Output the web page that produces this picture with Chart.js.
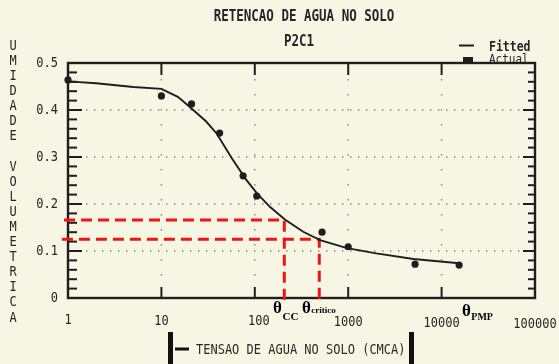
<!DOCTYPE html>
<html>
<head>
<meta charset="utf-8">
<script src="https://cdn.jsdelivr.net/npm/chart.js@4.4.1/dist/chart.umd.min.js"></script>
<style>
  html, body { margin: 0; padding: 0; background: #f7f6e5; }
  #wrap { position: relative; width: 559px; height: 364px; }
</style>
</head>
<body>
<div id="wrap"><canvas id="chart" width="559" height="364"></canvas></div>
<script>
// measured points (Actual)
const tension = [1, 10, 21, 42, 75, 105, 525, 1000, 5200, 15400];
const umidade = [0.464, 0.430, 0.413, 0.351, 0.260, 0.217, 0.140, 0.109, 0.072, 0.070];

// fitted curve
const fittedTension = [1, 2, 5, 10, 15, 20, 30, 39, 57, 80, 105, 145, 210, 330, 500, 970, 2000, 5000, 15400];
const fittedUmidade = [0.461, 0.457, 0.449, 0.445, 0.428, 0.407, 0.376, 0.350, 0.297, 0.253, 0.223, 0.194, 0.167, 0.141, 0.123, 0.106, 0.095, 0.083, 0.074];

const xTicks = [1, 10, 100, 1000, 10000, 100000];
const yTicks = [0, 0.1, 0.2, 0.3, 0.4, 0.5];
const yMinorStep = 0.02;

// red guide lines: theta CC and theta critico
const ccX = [0.906, 207, 207];
const ccY = [0.166, 0.166, -0.015];
const critX = [0.86, 490, 490];
const critY = [0.125, 0.125, -0.004];

// theta labels under the axis
const thetaX = [157, 320, 16500];
const thetaSub = ['CC', 'crítico', 'PMP'];

const title = 'RETENCAO DE AGUA NO SOLO';
const subtitle = 'P2C1';
const xTitle = 'TENSAO DE AGUA NO SOLO (CMCA)';
const yTitle = 'UMIDADE VOLUMETRICA';

const MONO = '"DejaVu Sans Mono", monospace';
const INK = '#1e1e1e';

const toPoints = (xs, ys) => xs.map((x, i) => ({ x, y: ys[i] }));

// plotter-like text, a bit taller than the font
function plotText(ctx, str, x, y, size, opts = {}) {
  ctx.save();
  ctx.font = `${opts.bold ? 'bold ' : ''}${size}px ${MONO}`;
  ctx.fillStyle = opts.color || '#262626';
  ctx.textAlign = opts.align || 'left';
  ctx.textBaseline = 'middle';
  ctx.translate(x, y);
  ctx.scale(1, opts.stretch || 1.2);
  ctx.fillText(str, 0, 0);
  ctx.restore();
}

const plotterFrame = {
  id: 'plotterFrame',
  beforeDatasetsDraw(chart) {
    const { ctx, chartArea: { left, right, top, bottom }, scales: { x, y } } = chart;
    const seg = (x1, y1, x2, y2) => {
      ctx.beginPath();
      ctx.moveTo(x1, y1);
      ctx.lineTo(x2, y2);
      ctx.stroke();
    };
    ctx.save();

    // dotted grid
    ctx.strokeStyle = '#8c8b80';
    ctx.lineWidth = 1.5;
    ctx.setLineDash([1.5, 6.5]);
    yTicks.slice(1, -1).forEach((v) => {
      const py = y.getPixelForValue(v);
      seg(left + 18, py, right - 14, py);
    });
    ctx.setLineDash([1.5, 13.5]);
    xTicks.slice(1, -1).forEach((v) => {
      const px = x.getPixelForValue(v);
      seg(px, top + 16, px, bottom - 12);
    });
    ctx.setLineDash([]);

    // inward ticks
    ctx.strokeStyle = INK;
    ctx.lineWidth = 2;
    const n = Math.round(0.5 / yMinorStep);
    for (let i = 1; i < n; i++) {
      const py = y.getPixelForValue(i * yMinorStep);
      const len = i % 5 === 0 ? 14 : 9;
      seg(left, py, left + len, py);
      seg(right, py, right - len + 2, py);
    }
    xTicks.slice(1, -1).forEach((v) => {
      const px = x.getPixelForValue(v);
      seg(px, top, px, top + 12);
      seg(px, bottom, px, bottom - 11);
    });

    // frame
    ctx.lineWidth = 2.4;
    ctx.strokeRect(left, top, right - left, bottom - top);
    ctx.restore();
  },
  afterDraw(chart) {
    const { ctx, chartArea: { left, bottom }, scales: { x, y } } = chart;

    // tick labels
    xTicks.forEach((v, i) => {
      const px = x.getPixelForValue(v);
      plotText(ctx, String(v), px + (i === 2 ? 4 : 0), bottom + 22 + i * 0.8, 12, { align: 'center' });
    });
    yTicks.forEach((v) => {
      plotText(ctx, v === 0 ? '0' : v.toFixed(1), left - 10, y.getPixelForValue(v), 12, { align: 'right' });
    });

    // titles
    plotText(ctx, title, 304, 17, 12.5, { bold: true, align: 'center', stretch: 1.25 });
    plotText(ctx, subtitle, 299, 42, 12.5, { bold: true, align: 'center', stretch: 1.25 });

    // legend
    ctx.save();
    ctx.strokeStyle = INK;
    ctx.lineWidth = 2;
    ctx.beginPath();
    ctx.moveTo(459, 45.5);
    ctx.lineTo(474, 45.5);
    ctx.stroke();
    ctx.fillStyle = INK;
    ctx.fillRect(463, 57, 10, 7);
    ctx.restore();
    plotText(ctx, 'Fitted', 489, 47, 11.5, { bold: true, stretch: 1.25 });
    plotText(ctx, 'Actual', 489, 60, 11, { stretch: 1.1 });

    // y title, stacked letters
    [...yTitle].forEach((ch, i) => {
      plotText(ctx, ch, 13, 46 + i * 15.1, 12, { align: 'center' });
    });

    // x title with its bars
    ctx.save();
    ctx.fillStyle = '#111';
    ctx.fillRect(168, 332, 5, 32);
    ctx.fillRect(175, 347.5, 14, 3);
    ctx.fillRect(409, 332, 5, 32);
    ctx.restore();
    plotText(ctx, xTitle, 196, 350, 12, { color: '#2a2a2a' });

    // theta labels
    ctx.save();
    ctx.fillStyle = '#000';
    ctx.textBaseline = 'middle';
    const subSize = [11, 9, 10];
    const subDy = [8, 2, 5];
    thetaX.forEach((v, i) => {
      const px = x.getPixelForValue(v);
      const py = bottom + 11 + (i === 2 ? 3 : 0);
      ctx.font = 'bold 17px "Liberation Serif", serif';
      ctx.textAlign = 'left';
      ctx.fillText('θ', px, py);
      const w = ctx.measureText('θ').width;
      ctx.font = `bold ${subSize[i]}px "Liberation Serif", serif`;
      ctx.fillText(thetaSub[i], px + w + 0.5, py + subDy[i]);
    });
    ctx.restore();
  },
};

new Chart(document.getElementById('chart'), {
  type: 'scatter',
  data: {
    datasets: [
      {
        label: 'Actual',
        data: toPoints(tension, umidade),
        pointRadius: 3.6,
        pointBackgroundColor: INK,
        pointBorderWidth: 0,
        showLine: false,
        clip: false,
      },
      {
        label: 'Fitted',
        data: toPoints(fittedTension, fittedUmidade),
        showLine: true,
        pointRadius: 0,
        borderColor: INK,
        borderWidth: 1.9,
        tension: 0,
      },
      {
        label: 'CC',
        data: toPoints(ccX, ccY),
        showLine: true,
        pointRadius: 0,
        borderColor: '#f01414',
        borderWidth: 3,
        borderDash: [11, 6],
        clip: false,
      },
      {
        label: 'critico',
        data: toPoints(critX, critY),
        showLine: true,
        pointRadius: 0,
        borderColor: '#f01414',
        borderWidth: 3,
        borderDash: [11, 6],
        clip: false,
      },
    ],
  },
  options: {
    responsive: false,
    animation: false,
    layout: {
      padding: { left: 68, right: 24, top: 63, bottom: 66 },
    },
    plugins: {
      legend: { display: false },
      tooltip: { enabled: false },
    },
    scales: {
      x: {
        type: 'logarithmic',
        min: 1,
        max: 100000,
        display: false,
      },
      y: {
        min: 0,
        max: 0.5,
        display: false,
      },
    },
  },
  plugins: [plotterFrame],
});
</script>
</body>
</html>
